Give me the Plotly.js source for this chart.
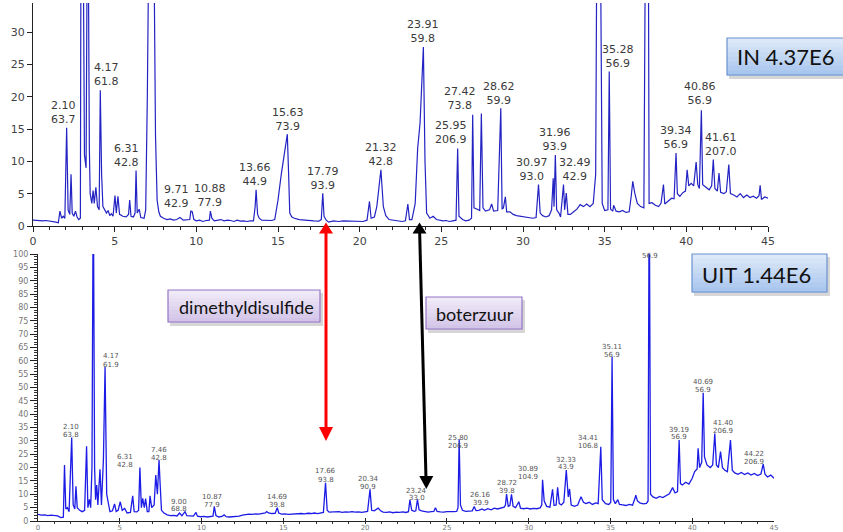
<!DOCTYPE html>
<html>
<head>
<meta charset="utf-8">
<script src="https://cdn.plot.ly/plotly-3.0.1.min.js"></script>
<style>html,body{margin:0;padding:0;background:#fff;}#chart{width:843px;height:532px;}</style>
</head>
<body>
<div id="chart"></div>
<script>
// ---------- DATA ----------
// IN sample chromatogram: [retention time (min), abundance]
const inSignal = [
[0,0.9],[0.2,0.85],[0.4,0.9],[0.6,0.8],[0.8,0.85],[1.0,0.8],[1.2,0.75],[1.4,0.6],[1.55,0.5],[1.65,2.3],
[1.75,1.2],[1.85,1.5],[1.95,1.2],[2.06,15.2],[2.15,2.5],[2.25,1.8],[2.33,8.0],[2.4,2.0],[2.5,1.5],[2.6,2.3],
[2.7,1.4],[2.8,1.0],[2.9,1.2],[2.95,60],[3.05,55],[3.15,11],[3.25,9],[3.35,60],[3.45,12],[3.5,5],
[3.6,3.5],[3.68,5.5],[3.75,3.5],[3.85,6.0],[3.95,3.0],[4.05,2.5],[4.12,21],[4.2,8],[4.28,3],[4.4,2.3],
[4.5,2.0],[4.6,2.4],[4.7,1.6],[4.8,1.9],[4.9,1.5],[5.02,4.7],[5.1,2.0],[5.2,4.6],[5.3,1.8],[5.5,1.5],
[5.7,1.4],[5.85,1.8],[5.92,4.0],[6.0,1.5],[6.15,1.4],[6.25,2.0],[6.31,8.6],[6.38,2.0],[6.5,2.6],[6.6,1.3],
[6.8,1.2],[6.9,2.5],[7.0,20],[7.15,60],[7.35,60],[7.5,14],[7.6,4],[7.7,2.2],[7.8,1.5],[8.0,1.2],
[8.2,1.0],[8.4,1.1],[8.6,0.9],[8.8,1.0],[9.0,1.3],[9.2,0.9],[9.4,0.95],[9.6,1.0],[9.66,2.3],[9.75,2.2],
[9.85,1.0],[10.0,0.8],[10.2,0.9],[10.4,0.7],[10.6,0.85],[10.8,0.9],[10.86,2.3],[10.95,1.2],[11.1,0.8],[11.3,0.9],
[11.5,1.0],[11.7,0.8],[11.9,0.9],[12.1,0.85],[12.3,0.7],[12.5,0.9],[12.7,0.75],[12.9,0.8],[13.1,0.7],[13.3,0.8],
[13.5,0.8],[13.6,3.0],[13.66,5.6],[13.75,1.8],[13.85,1.2],[14.0,0.9],[14.2,0.85],[14.4,0.8],[14.6,0.85],[14.8,1.0],
[15.0,4.0],[15.2,8.0],[15.4,11.0],[15.57,14.2],[15.65,8],[15.72,2.0],[15.85,1.4],[16.0,1.2],[16.3,1.0],[16.6,0.9],
[16.9,0.85],[17.2,0.8],[17.5,0.75],[17.65,1.0],[17.74,5.05],[17.82,1.5],[17.95,0.9],[18.1,0.6],[18.4,0.8],[18.7,0.7],
[19.0,0.8],[19.3,0.75],[19.6,0.7],[19.9,0.65],[20.2,0.7],[20.45,0.9],[20.6,3.8],[20.7,1.2],[20.9,1.4],[21.05,3.0],
[21.15,5.5],[21.3,8.7],[21.45,3.0],[21.6,1.6],[21.8,1.0],[22.0,0.9],[22.3,0.8],[22.6,0.7],[22.8,0.8],[22.95,3.4],
[23.05,1.0],[23.2,1.0],[23.4,3.5],[23.55,12],[23.7,16],[23.9,27.7],[24.0,10],[24.1,2.0],[24.3,1.2],[24.5,1.5],
[24.7,1.0],[24.9,0.9],[25.1,0.8],[25.3,0.85],[25.5,0.7],[25.7,0.8],[25.9,0.9],[26.0,12.0],[26.08,1.5],[26.3,1.0],
[26.5,0.8],[26.7,0.9],[26.85,1.2],[26.92,17.2],[27.0,2.8],[27.2,2.6],[27.35,2.4],[27.45,17.4],[27.55,2.8],[27.7,2.3],
[27.95,2.5],[28.08,3.4],[28.2,2.3],[28.45,2.4],[28.64,18.2],[28.72,2.6],[28.8,2.8],[28.92,4.5],[29.0,2.2],[29.2,2.2],
[29.4,1.8],[29.6,1.6],[29.8,1.5],[30.0,1.5],[30.2,1.4],[30.4,1.3],[30.6,1.2],[30.8,1.3],[30.95,6.4],[31.05,2.0],
[31.2,1.6],[31.4,1.4],[31.6,1.6],[31.75,2.5],[31.85,7.4],[31.9,3],[31.98,11.0],[32.06,2.5],[32.2,2.0],[32.3,1.4],
[32.48,6.4],[32.55,2.5],[32.65,5.1],[32.75,1.8],[32.9,1.8],[33.1,2.2],[33.3,2.6],[33.5,3.3],[33.7,3.0],[33.9,3.4],
[34.1,3.0],[34.3,3.5],[34.45,8],[34.55,60],[34.7,60],[34.85,3.5],[35.0,2.4],[35.2,2.5],[35.28,23.9],[35.36,2.6],
[35.5,2.3],[35.55,3.2],[35.7,2.3],[35.9,2.2],[36.1,2.4],[36.3,2.1],[36.5,2.2],[36.62,4.5],[36.72,6.9],[36.85,5.0],
[37.0,3.5],[37.2,3.0],[37.4,2.8],[37.55,70],[37.65,70],[37.72,3.5],[37.9,3.6],[38.1,3.2],[38.3,3.0],[38.45,3.5],
[38.6,6.4],[38.68,3.4],[38.9,3.8],[39.1,4.3],[39.25,4.2],[39.37,11.3],[39.45,5.0],[39.6,4.6],[39.8,5.2],[39.95,5.4],
[40.05,8.7],[40.15,6.2],[40.3,6.6],[40.45,6.2],[40.6,9.9],[40.7,6.4],[40.8,5.8],[40.92,17.9],[41.0,6.4],[41.2,6.0],
[41.4,5.6],[41.55,6.2],[41.65,10.3],[41.75,5.8],[41.9,5.4],[42.0,8.2],[42.1,5.2],[42.3,5.0],[42.45,5.3],[42.6,9.5],
[42.7,5.0],[42.9,4.8],[43.1,4.5],[43.3,5.0],[43.5,4.4],[43.7,4.8],[43.9,4.4],[44.1,4.6],[44.3,4.3],[44.45,4.7],
[44.52,6.3],[44.6,4.1],[44.8,4.5],[45.0,4.3]
];

// UIT sample chromatogram: [retention time (min), abundance]
const uitSignal = [
[0,2.5],[0.2,2.2],[0.4,2.3],[0.6,2.0],[0.8,2.2],[1.0,2.0],[1.2,1.9],[1.4,1.3],[1.55,1.4],[1.62,21],
[1.7,4.5],[1.8,5],[1.9,3.5],[2.06,31.3],[2.15,6],[2.25,4.5],[2.32,13],[2.4,5],[2.55,4],[2.7,3.5],
[2.85,4],[2.97,28],[3.05,5],[3.14,8.1],[3.22,5],[3.3,20],[3.38,130],[3.46,20],[3.52,8],[3.59,13.5],
[3.66,6],[3.79,19.4],[3.88,6],[4.0,23],[4.1,57.8],[4.2,10],[4.3,6.9],[4.4,3.5],[4.55,3.8],[4.68,6.4],
[4.78,3.6],[4.9,4],[5.03,7.2],[5.15,4],[5.3,4.7],[5.45,3],[5.65,3.2],[5.79,9.4],[5.88,3.5],[6.05,3.4],
[6.15,4],[6.23,20],[6.32,5],[6.4,8.5],[6.5,5],[6.58,8.4],[6.68,3.5],[6.78,3.5],[6.85,9.4],[6.95,5],
[7.1,6],[7.2,17.2],[7.3,10],[7.4,22.8],[7.47,13.5],[7.55,4],[7.7,3],[7.9,2.3],[8.1,2.0],[8.3,2.1],
[8.5,1.9],[8.65,3.0],[8.8,2.0],[8.99,3.5],[9.1,2.0],[9.3,1.9],[9.5,1.8],[9.66,3.2],[9.75,1.8],[9.95,1.6],
[10.15,1.7],[10.35,1.5],[10.55,1.6],[10.7,1.8],[10.78,5.4],[10.88,2.0],[11.05,1.5],[11.25,1.7],[11.38,2.3],[11.5,1.6],
[11.7,1.5],[11.9,1.6],[12.1,1.5],[12.3,1.8],[12.5,2.2],[12.7,2.4],[12.9,2.6],[13.1,2.5],[13.3,2.7],[13.5,2.6],
[13.7,2.8],[13.9,3.0],[13.98,3.5],[14.1,3.0],[14.3,2.8],[14.5,2.9],[14.63,5.0],[14.72,3.0],[14.9,2.6],[15.1,2.7],
[15.3,2.5],[15.5,2.6],[15.7,2.7],[15.9,2.6],[16.1,2.8],[16.3,2.7],[16.5,2.9],[16.7,2.8],[16.9,3.0],[17.1,2.8],
[17.3,3.0],[17.45,3.2],[17.58,14.3],[17.68,4.0],[17.8,3.3],[18.0,3.4],[18.2,3.3],[18.4,3.5],[18.6,3.2],[18.8,3.4],
[19.0,3.3],[19.2,3.5],[19.4,3.3],[19.6,3.4],[19.8,3.2],[20.0,3.4],[20.15,3.6],[20.3,11.9],[20.4,4.0],[20.55,3.8],
[20.8,4.8],[20.95,3.8],[21.1,3.3],[21.3,3.2],[21.5,3.4],[21.7,3.1],[21.9,3.3],[22.1,3.2],[22.3,3.4],[22.5,3.2],
[22.65,3.5],[22.74,7.9],[22.85,4.0],[23.0,3.6],[23.1,3.8],[23.2,8.1],[23.3,4.2],[23.45,3.8],[23.65,3.5],[23.85,3.3],
[24.05,3.5],[24.2,3.6],[24.3,5.0],[24.4,3.6],[24.6,3.4],[24.8,3.3],[25.0,3.5],[25.2,3.4],[25.4,3.5],[25.6,3.6],
[25.68,5],[25.75,30.6],[25.83,6],[25.95,4.0],[26.15,3.6],[26.35,3.7],[26.55,3.8],[26.67,5.4],[26.78,3.9],[26.95,4.0],
[27.15,4.5],[27.3,4.0],[27.5,4.6],[27.7,4.2],[27.9,4.8],[28.1,4.5],[28.3,5.0],[28.5,5.2],[28.58,6],[28.65,10.1],
[28.75,5.5],[28.85,5.8],[28.95,10.0],[29.05,5.5],[29.2,5.0],[29.4,7.2],[29.5,4.8],[29.7,4.6],[29.9,4.8],[30.1,4.5],
[30.3,4.7],[30.5,4.6],[30.7,4.9],[30.8,6],[30.85,15.4],[30.95,7.5],[31.1,5.5],[31.3,5.2],[31.46,11.9],[31.55,5.8],
[31.68,6],[31.77,12.6],[31.87,6.5],[32.0,6.0],[32.15,7.0],[32.3,19.1],[32.42,9],[32.5,12],[32.6,6],[32.8,5.5],
[33.0,6.0],[33.2,9.1],[33.35,7.0],[33.5,6.5],[33.7,7.0],[33.9,6.2],[34.1,6.8],[34.25,6.5],[34.41,27.8],[34.5,8],
[34.7,6.5],[34.9,6.2],[35.02,7],[35.1,61.5],[35.18,8],[35.3,6.5],[35.45,8],[35.55,6.2],[35.75,6.0],[35.95,5.8],
[36.15,6.2],[36.35,5.9],[36.5,8.5],[36.55,9.7],[36.65,7.5],[36.8,6.8],[37.0,6.4],[37.2,6.6],[37.3,7.5],[37.37,130],
[37.45,10],[37.6,9.0],[37.8,8.5],[38.0,9.2],[38.2,8.8],[38.4,9.5],[38.6,10.2],[38.8,12.5],[38.95,10.5],[39.1,11],
[39.2,30.3],[39.28,14],[39.4,13.5],[39.6,14.5],[39.8,13.8],[40.0,16],[40.15,18.5],[40.3,19.5],[40.36,27.2],[40.45,20],
[40.58,22],[40.67,48],[40.75,24],[40.9,21],[41.1,20],[41.25,21],[41.38,32.8],[41.48,21],[41.6,20],[41.73,26],
[41.85,20],[42.0,19],[42.15,18.5],[42.34,30.3],[42.45,19],[42.6,18],[42.8,17.5],[43.0,18.2],[43.2,17.4],[43.4,18],
[43.6,17.2],[43.8,17.8],[44.0,17.0],[44.2,17.6],[44.34,21.3],[44.45,17.5],[44.6,16.5],[44.8,17.2],[45.0,16.0]
];

// Peak labels (retention time / m/z)
const inLabelRT   = ['2.10','4.17','6.31','9.71','10.88','13.66','15.63','17.79','21.32','23.91','25.95','27.42','28.62','30.97','31.96','32.49','35.28','39.34','40.86','41.61'];
const inLabelMass = ['63.7','61.8','42.8','42.9','77.9','44.9','73.9','93.9','42.8','59.8','206.9','73.8','59.9','93.0','93.9','42.9','56.9','56.9','56.9','207.0'];
const uitLabelRT   = ['2.10','4.17','6.31','7.46','9.00','10.87','14.69','17.66','20.34','23.24','25.80','26.16','28.72','30.89','32.33','34.41','35.11','39.19','40.69','41.40','44.22',''];
const uitLabelMass = ['63.8','61.9','42.8','42.8','68.8','77.9','39.8','93.8','90.9','33.0','206.9','39.9','39.8','104.9','43.9','106.8','56.9','56.9','56.9','206.9','206.9','56.9'];

// Axis ticks
const inYTicks  = [0,5,10,15,20,25,30];
const uitYTicks = [0,5,10,15,20,25,30,35,40,45,50,55,60,65,70,75,80,85,90,95,100];
const timeTicks = [0,5,10,15,20,25,30,35,40,45];

// Annotation texts
const inScale = 'IN 4.37E6';
const uitScale = 'UIT 1.44E6';
const compoundA = 'dimethyldisulfide';
const compoundB = 'boterzuur';

// ---------- LAYOUT (placements) ----------
const W = 843, H = 532;
const px = v => v / W;
const py = v => 1 - v / H;

// label placements in data units [x, y(center)]
const inLabelPlace = [[1.84,17.6],[4.47,23.4],[5.74,10.9],[8.80,4.64],[10.84,4.69],[13.61,7.93],[15.59,16.5],[17.74,7.3],[21.31,11.13],[23.86,30.05],[25.57,14.46],[26.14,19.79],[28.55,20.57],[30.53,8.74],[31.96,13.45],[33.18,8.74],[35.83,26.24],[39.37,13.76],[40.84,20.52],[42.10,12.68]];
const uitLabelPlace = [[2.02,34.67,32.54],[4.46,61.45,58.98],[5.32,23.45,21.32],[7.40,26.29,24.05],[8.62,6.84,4.97],[10.66,8.71,6.62],[14.59,8.71,6.62],[17.59,18.21,15.82],[20.19,15.33,13.09],[23.15,10.96,9.09],[25.70,30.67,28.69],[27.08,9.35,7.22],[28.66,13.73,11.59],[29.94,19.07,16.94],[32.28,22.55,20.57],[33.65,30.56,28.43],[35.08,64.82,62.72],[39.21,33.77,31.79],[40.68,51.73,49.63],[41.86,36.28,34.04],[43.78,24.68,22.55],[37.42,102,99.3]];
const uitLineSpread = 0.45; // extra separation between the two label lines (data units)

const traces = [
  {x: inSignal.map(p=>p[0]), y: inSignal.map(p=>p[1]), xaxis:'x', yaxis:'y', type:'scatter', mode:'lines',
   line:{color:'#2323c4', width:1.2}, hoverinfo:'skip'},
  {x: uitSignal.map(p=>p[0]), y: uitSignal.map(p=>p[1]), xaxis:'x2', yaxis:'y2', type:'scatter', mode:'lines',
   line:{color:'#1c1ce6', width:1.3}, hoverinfo:'skip'}
];

const annotations = [];
inLabelRT.forEach((rt,i)=>{
  annotations.push({xref:'x', yref:'y', x:inLabelPlace[i][0], y:inLabelPlace[i][1], text: rt+'<br>'+inLabelMass[i],
    showarrow:false, xanchor:'center', yanchor:'middle',
    font:{family:'DejaVu Sans', size:11, color:'#3a3a3a'}});
});
uitLabelRT.forEach((rt,i)=>{
  const p = uitLabelPlace[i];
  if (rt) annotations.push({xref:'x2', yref:'y2', x:p[0], y:p[1]+uitLineSpread, text: rt, showarrow:false, xanchor:'center', yanchor:'middle',
    font:{family:'DejaVu Sans', size:7, color:'#555'}});
  annotations.push({xref:'x2', yref:'y2', x:p[0], y:p[2]-(rt?uitLineSpread:0), text: uitLabelMass[i], showarrow:false, xanchor:'center', yanchor:'middle',
    font:{family:'DejaVu Sans', size:7, color:'#555'}});
});

const shapes = [];
function gradBox(x0,y0,x1,y1,c0,c1,border){
  shapes.push({type:'rect', xref:'paper', yref:'paper', x0:px(x0+2), x1:px(x1+3), y0:py(y0+3), y1:py(y1+4),
    fillcolor:'rgba(0,0,0,0.16)', line:{width:0}, layer:'above'});
  const n = 8;
  const a = c0.match(/\w\w/g).map(h=>parseInt(h,16)), b = c1.match(/\w\w/g).map(h=>parseInt(h,16));
  for (let i=0;i<n;i++){
    const t = i/(n-1);
    const c = a.map((v,k)=>Math.round(v+(b[k]-v)*t));
    shapes.push({type:'rect', xref:'paper', yref:'paper', x0:px(x0), x1:px(x1),
      y0:py(y0+(y1-y0)*(i+1)/n+0.5), y1:py(y0+(y1-y0)*i/n),
      fillcolor:'rgb('+c.join(',')+')', line:{width:0}, layer:'above'});
  }
  shapes.push({type:'rect', xref:'paper', yref:'paper', x0:px(x0), x1:px(x1), y0:py(y1), y1:py(y0),
    fillcolor:'rgba(0,0,0,0)', line:{color:border, width:1.2}, layer:'above'});
}
gradBox(727,38,850,75,'dde9f8','a9c6ee','#6a92d0');
gradBox(692,254,827,292,'dde9f8','a9c6ee','#6a92d0');
gradBox(168,290,320,322,'f0eaf7','d3c5e8','#9575c6');
gradBox(426,297,522,329,'f0eaf7','d3c5e8','#9575c6');

annotations.push({xref:'paper', yref:'paper', x:px(786), y:py(57), text:inScale, showarrow:false, xanchor:'center', yanchor:'middle', font:{family:'Lato', size:22, color:'#111'}});
annotations.push({xref:'paper', yref:'paper', x:px(756), y:py(274), text:uitScale, showarrow:false, xanchor:'center', yanchor:'middle', font:{family:'Lato', size:22, color:'#111'}});
annotations.push({xref:'paper', yref:'paper', x:px(246), y:py(307), text:compoundA, showarrow:false, xanchor:'center', yanchor:'middle', font:{family:'Lato', size:18, color:'#111'}});
annotations.push({xref:'paper', yref:'paper', x:px(475), y:py(314), text:compoundB, showarrow:false, xanchor:'center', yanchor:'middle', font:{family:'Lato', size:18, color:'#111'}});

function tri(tx,ty,bx,by,hw){
  return 'M '+px(tx)+' '+py(ty)+' L '+px(bx-hw)+' '+py(by)+' L '+px(bx+hw)+' '+py(by)+' Z';
}
shapes.push({type:'line', xref:'paper', yref:'paper', x0:px(326), x1:px(326), y0:py(230), y1:py(430), line:{color:'#ff0000', width:3}, layer:'above'});
shapes.push({type:'path', xref:'paper', yref:'paper', path:tri(326,222.5,326,233.5,7), fillcolor:'#ff0000', line:{width:0}, layer:'above'});
shapes.push({type:'path', xref:'paper', yref:'paper', path:tri(326,441,326,427,7), fillcolor:'#ff0000', line:{width:0}, layer:'above'});
shapes.push({type:'line', xref:'paper', yref:'paper', x0:px(419.6), x1:px(426), y0:py(230), y1:py(479), line:{color:'#000000', width:3}, layer:'above'});
shapes.push({type:'path', xref:'paper', yref:'paper', path:tri(419.5,222.5,419.5,233.5,7), fillcolor:'#000000', line:{width:0}, layer:'above'});
shapes.push({type:'path', xref:'paper', yref:'paper', path:tri(426.3,489,426.3,476,7), fillcolor:'#000000', line:{width:0}, layer:'above'});

const axBase = {showgrid:false, zeroline:false, showline:true, linecolor:'#222', linewidth:1, ticks:'outside', tickcolor:'#222'};
const layout = {
  width: W, height: H, margin:{l:0,r:0,t:0,b:0}, paper_bgcolor:'#fff', plot_bgcolor:'rgba(0,0,0,0)', showlegend:false,
  xaxis: Object.assign({}, axBase, {domain:[px(33), px(768)], range:[0,45], anchor:'y', tickvals:timeTicks, ticklen:5,
    minor:{dtick:1, tick0:0, ticks:'outside', ticklen:3, tickcolor:'#222'},
    tickfont:{family:'DejaVu Sans', size:11, color:'#444'}}),
  yaxis: Object.assign({}, axBase, {domain:[py(226), py(3)], range:[0,34.5], anchor:'x', tickvals:inYTicks, ticklen:5,
    tickfont:{family:'DejaVu Sans', size:11, color:'#444'}}),
  xaxis2: Object.assign({}, axBase, {domain:[px(38), px(774)], range:[0,45], anchor:'y2', tickvals:timeTicks, ticks:'inside', ticklen:3,
    minor:{dtick:1, tick0:0, ticks:'outside', ticklen:2, tickcolor:'#333'},
    tickfont:{family:'DejaVu Sans', size:7, color:'#777'}}),
  yaxis2: Object.assign({}, axBase, {domain:[py(521), py(254)], range:[0,100], anchor:'x2', tickvals:uitYTicks, ticklen:7,
    minor:{dtick:1, tick0:0, ticks:'outside', ticklen:3, tickcolor:'#333'},
    tickfont:{family:'DejaVu Sans', size:8, color:'#777'}}),
  annotations: annotations,
  shapes: shapes
};

Plotly.newPlot('chart', traces, layout, {staticPlot:true, displayModeBar:false});
</script>
</body>
</html>
